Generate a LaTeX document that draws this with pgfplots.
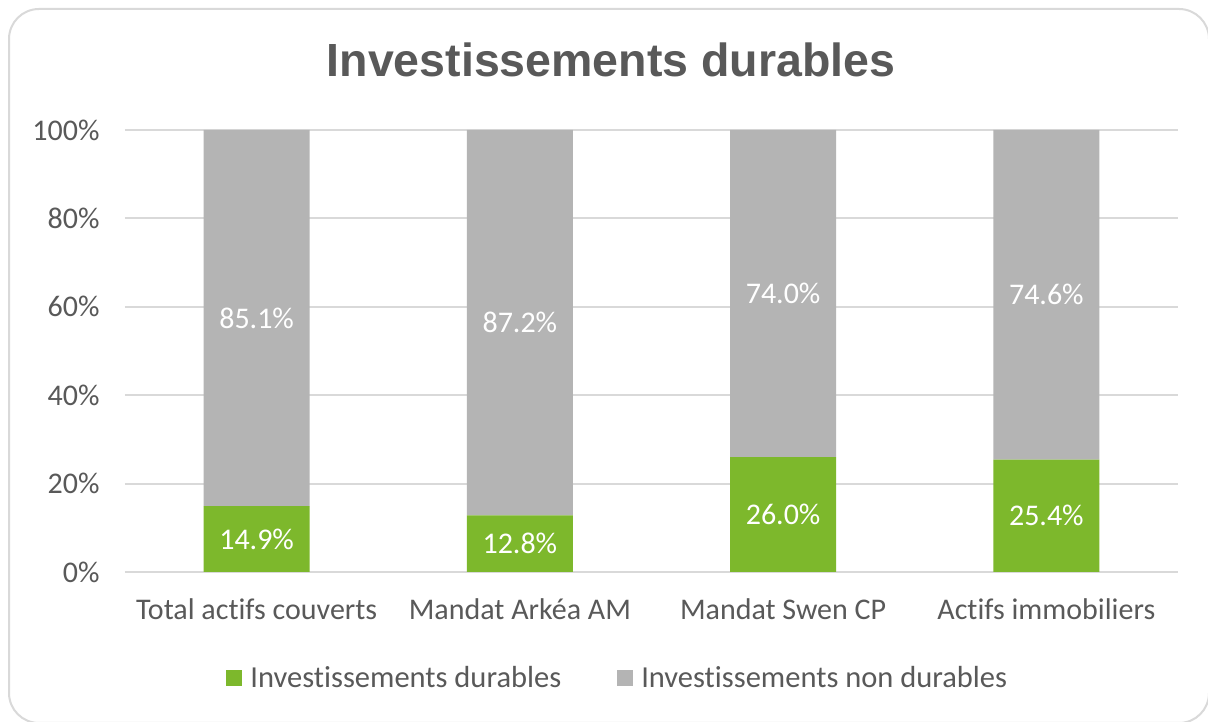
\documentclass[border=0pt]{standalone}
\usepackage{pgfplots}
\pgfplotsset{compat=1.18}
\usepackage{fontspec}
\setmainfont{Carlito}[Ligatures={NoCommon}]
\newfontfamily\titlefont{Liberation Sans}
\definecolor{cgreen}{HTML}{7DB82C}
\definecolor{cgray}{HTML}{B4B4B4}
\definecolor{ctext}{HTML}{595959}
\definecolor{cgrid}{HTML}{D9D9D9}
\definecolor{cframe}{HTML}{D9D9D9}
\begin{document}
\begin{tikzpicture}
\useasboundingbox (0pt,0pt) rectangle (1208pt,722pt);
\clip (0pt,0pt) rectangle (1208pt,722pt);
\draw[cframe, line width=2pt, rounded corners=30pt, fill=white] (9pt,713pt) rectangle (1209pt,-1pt);
\node[text=ctext, font=\titlefont\bfseries\fontsize{46.5}{50}\selectfont] at (611pt,662pt) {Investissements durables};
\begin{axis}[
  at={(125pt,150pt)}, anchor=south west,
  width=1053pt, height=442pt, scale only axis,
  ybar stacked, bar width=106pt,
  xmin=-0.5, xmax=3.5, ymin=0, ymax=100,
  xtick={0,1,2,3},
  xticklabels={Total actifs couverts, Mandat Arkéa AM, Mandat Swen CP, Actifs immobiliers},
  ytick={0,20,40,60,80,100},
  yticklabels={0\%,20\%,40\%,60\%,80\%,100\%},
  ymajorgrids, grid style={cgrid, line width=2pt},
  axis line style={draw=none},
  tick style={draw=none},
  ticklabel style={text=ctext, font=\fontsize{30}{32}\selectfont},
  xticklabel style={yshift=-23pt},
  yticklabel style={xshift=-22pt},
  legend columns=2,
  legend style={at={(0.468,-0.24)}, anchor=center, draw=none, fill=none,
    font=\fontsize{30.5}{32}\selectfont, text=ctext,
    /tikz/every odd column/.append style={column sep=6pt},
    /tikz/every even column/.append style={column sep=54pt}},
  legend image code/.code={\fill[#1] (0pt,-8pt) rectangle (16pt,8pt);},
]
\addplot[fill=cgreen, draw=none] coordinates {(0,14.9) (1,12.8) (2,26.0) (3,25.4)};
\addlegendentry{Investissements durables}
\addplot[fill=cgray, draw=none] coordinates {(0,85.1) (1,87.2) (2,74.0) (3,74.6)};
\addlegendentry{Investissements non durables}
\end{axis}
\begin{axis}[
  at={(125pt,150pt)}, anchor=south west,
  width=1053pt, height=442pt, scale only axis,
  xmin=-0.5, xmax=3.5, ymin=0, ymax=100, hide axis,
  nodes near coords, point meta=explicit symbolic,
  every node near coord/.append style={anchor=center, text=white, font=\fontsize{30}{32}\selectfont},
]
\addplot[draw=none, mark=none] coordinates {(0,7.45)[14.9\%] (1,6.4)[12.8\%] (2,13.0)[26.0\%] (3,12.7)[25.4\%]};
\addplot[draw=none, mark=none] coordinates {(0,57.45)[85.1\%] (1,56.4)[87.2\%] (2,63.0)[74.0\%] (3,62.7)[74.6\%]};
\end{axis}
\end{tikzpicture}
\end{document}
